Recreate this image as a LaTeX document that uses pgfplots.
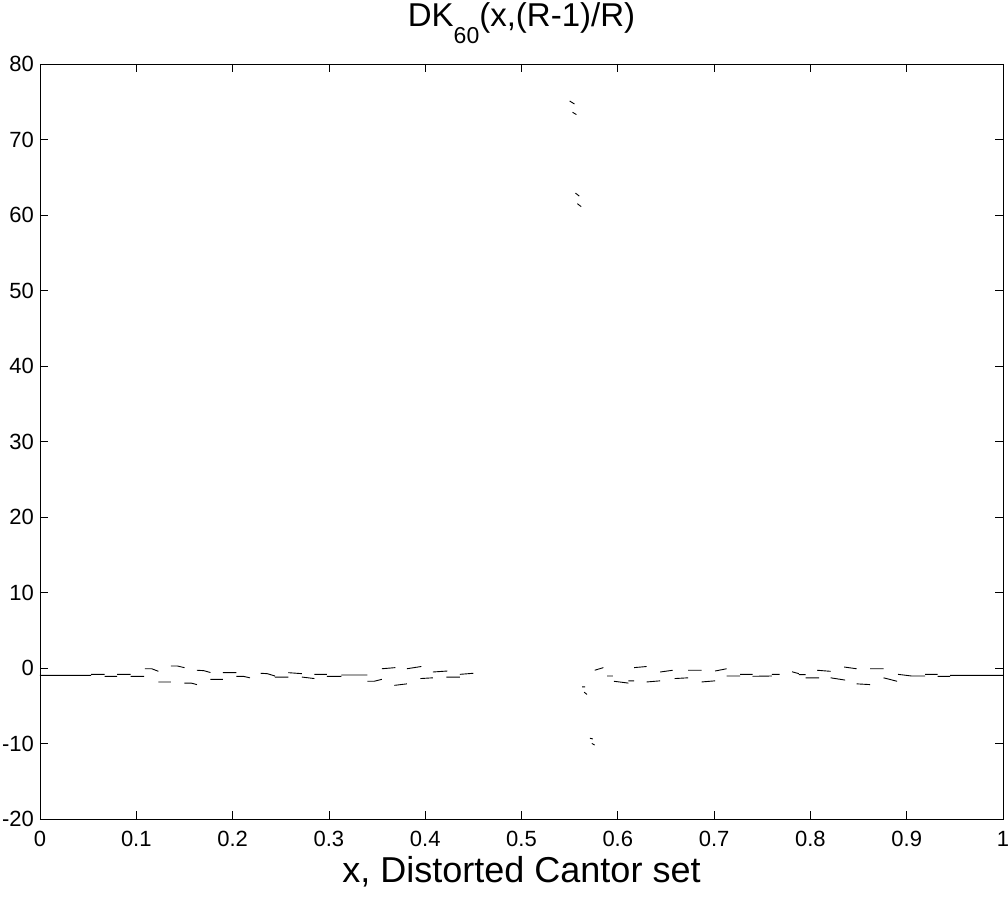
\documentclass[border=0pt]{standalone}
\usepackage{pgfplots}
\pgfplotsset{compat=1.18}
\usepackage{pgfplotstable}
\usepackage{fontspec}
\setmainfont{Liberation Sans}

% segments of DK_60, separated by nan rows
\pgfplotstableread{
x y
0 -0.97
0.053 -0.97
nan nan
0.053 -0.84
0.067 -0.84
nan nan
0.067 -1.1
0.080 -1.1
nan nan
0.080 -0.84
0.094 -0.84
nan nan
0.094 -1.1
0.108 -1.1
nan nan
0.109 -0.1
0.116 -0.1
0.123 -0.44
nan nan
0.123 -1.85
0.136 -1.85
nan nan
0.136 0.26
0.143 0.26
0.150 0.04
nan nan
0.150 -2.0
0.157 -2.0
0.163 -2.2
nan nan
0.163 -0.3
0.170 -0.35
0.177 -0.6
nan nan
0.177 -1.5
0.190 -1.5
nan nan
0.190 -0.62
0.204 -0.62
nan nan
0.204 -1.1
0.211 -1.1
0.218 -1.3
nan nan
0.229 -0.7
0.236 -0.75
0.244 -1.06
nan nan
0.244 -1.2
0.258 -1.2
nan nan
0.258 -0.62
0.272 -0.75
nan nan
0.272 -1.2
0.285 -1.4
nan nan
0.285 -0.84
0.298 -0.84
nan nan
0.298 -1.1
0.313 -1.1
nan nan
0.313 -0.93
0.340 -0.93
nan nan
0.340 -1.76
0.347 -1.76
0.355 -1.5
nan nan
0.355 -0.1
0.369 0.05
nan nan
0.368 -2.3
0.381 -2.1
nan nan
0.381 -0.1
0.396 0.2
nan nan
0.395 -1.4
0.408 -1.3
nan nan
0.408 -0.53
0.423 -0.4
nan nan
0.422 -1.2
0.436 -1.2
nan nan
0.436 -0.84
0.450 -0.7
nan nan
0.550 75.1
0.555 74.7
nan nan
0.553 73.6
0.557 73.3
nan nan
0.556 62.9
0.560 62.5
nan nan
0.558 61.5
0.562 61.1
nan nan
0.563 -2.5
0.566 -2.5
nan nan
0.565 -3.2
0.568 -3.5
nan nan
0.571 -9.3
0.574 -9.4
nan nan
0.573 -10.0
0.576 -10.2
nan nan
0.576 -0.3
0.585 0.05
nan nan
0.589 -1.06
0.595 -1.06
nan nan
0.596 -1.76
0.611 -2.0
nan nan
0.611 -1.7
0.617 -1.7
nan nan
0.617 0.05
0.630 0.2
nan nan
0.630 -1.85
0.644 -1.7
nan nan
0.644 -0.53
0.657 -0.3
nan nan
0.659 -1.4
0.673 -1.3
nan nan
0.673 -0.3
0.687 -0.3
nan nan
0.687 -1.85
0.701 -1.7
nan nan
0.701 -0.4
0.713 -0.1
nan nan
0.713 -1.06
0.727 -1.06
nan nan
0.727 -0.84
0.740 -0.84
nan nan
0.740 -1.1
0.760 -1.06
nan nan
0.760 -0.84
0.768 -0.84
nan nan
0.781 -0.5
0.788 -0.75
nan nan
0.788 -0.88
0.795 -0.88
nan nan
0.795 -1.3
0.809 -1.3
nan nan
0.807 -0.3
0.821 -0.44
nan nan
0.821 -1.3
0.836 -1.6
nan nan
0.835 0.13
0.848 -0.1
nan nan
0.848 -2.1
0.862 -2.2
nan nan
0.862 -0.1
0.876 -0.1
nan nan
0.876 -1.3
0.890 -1.76
nan nan
0.891 -0.84
0.905 -1.06
nan nan
0.905 -1.06
0.919 -1.06
nan nan
0.919 -0.84
0.932 -0.84
nan nan
0.932 -1.1
0.945 -1.1
nan nan
0.945 -0.97
1.0 -0.97
}\dkdata

\begin{document}
\begin{tikzpicture}
\path[use as bounding box] (-40pt,-77pt) rectangle (968pt,819pt);
\begin{axis}[
  scale only axis,
  width=963pt, height=755pt,
  xmin=0, xmax=1, ymin=-20, ymax=80,
  xtick={0,0.1,0.2,0.3,0.4,0.5,0.6,0.7,0.8,0.9,1},
  xticklabels={0,0.1,0.2,0.3,0.4,0.5,0.6,0.7,0.8,0.9,1},
  ytick={-20,-10,0,10,20,30,40,50,60,70,80},
  yticklabels={-20,-10,0,10,20,30,40,50,60,70,80},
  tick align=inside,
  major tick length=8pt,
  tick style={black, line width=0.8pt},
  axis line style={black, line width=0.8pt},
  unbounded coords=jump,
  /pgf/number format/assume math mode=true,
  xticklabel style={font=\fontsize{22}{26}\selectfont, anchor=base, yshift=-27pt, inner sep=0pt},
  yticklabel style={font=\fontsize{22}{26}\selectfont, anchor=east, inner sep=0pt, xshift=-6pt},
  title={DK\raisebox{-17pt}{\fontsize{23}{23}\selectfont 60}(x,(R-1)/R)},
  title style={font=\fontsize{33}{36}\selectfont, at={(0.5,1)}, anchor=base, yshift=31pt, inner sep=0pt},
  xlabel={x, Distorted Cantor set},
  xlabel style={font=\fontsize{36}{40}\selectfont, at={(0.5,0)}, anchor=base, yshift=-63pt, inner sep=0pt},
]
\addplot[black, line width=0.9pt, mark=none] table[x=x, y=y] {\dkdata};
\end{axis}
\end{tikzpicture}
\end{document}
